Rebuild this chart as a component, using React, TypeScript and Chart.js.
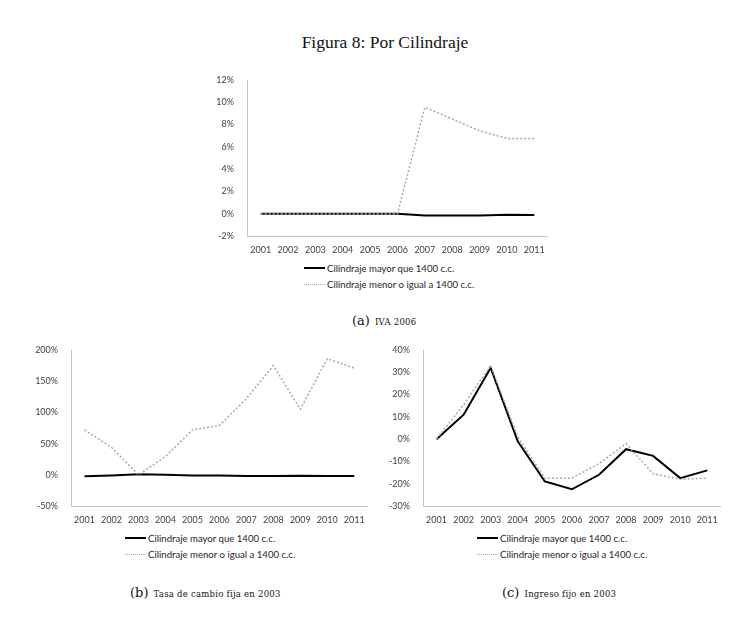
import React, { useEffect, useRef } from "react";
import { Chart, registerables } from "chart.js";

Chart.register(...registerables);

const years = ["2001", "2002", "2003", "2004", "2005", "2006", "2007", "2008", "2009", "2010", "2011"];

// (a) IVA 2006
const ivaMayor = [0, 0, 0, 0, 0, 0, -0.15, -0.15, -0.15, -0.1, -0.12];
const ivaMenor = [0, 0, 0, 0, 0, 0, 9.55, 8.5, 7.45, 6.75, 6.75];

// (b) Tasa de cambio fija en 2003
const tasaMayor = [-2.5, -1, 1, 0, -1, -1, -2, -2, -1.5, -2, -2];
const tasaMenor = [72, 44, 0, 29, 72, 79, 122, 175, 105, 186, 171];

// (c) Ingreso fijo en 2003
const ingresoMayor = [0, 11, 32, -1, -19, -22.5, -16, -4.5, -7.5, -17.5, -14];
const ingresoMenor = [0, 15.5, 33, 1, -17.5, -17.5, -11, -2, -15.5, -18, -17.5];

const labelMayor = "Cilindraje mayor que 1400 c.c.";
const labelMenor = "Cilindraje menor o igual a 1400 c.c.";

const PAD_L = 48;
const PAD_T = 12;
const PAD_R = 6;
const PAD_B = 24;

const tickFont = { family: "Lato", size: 9 };
const textColor = "#404040";
const axisColor = "#c4c4c4";

type Plot = { left: number; top: number; width: number; height: number };

type ChartProps = {
  plot: Plot;
  mayor: number[];
  menor: number[];
  yMin: number;
  yMax: number;
  yStep: number;
};

function LineChart({ plot, mayor, menor, yMin, yMax, yStep }: ChartProps) {
  const ref = useRef<HTMLCanvasElement | null>(null);

  useEffect(() => {
    const ctx = ref.current?.getContext("2d");
    if (!ctx) return;
    const chart = new Chart(ctx, {
      type: "line",
      data: {
        labels: years,
        datasets: [
          {
            label: labelMenor,
            data: menor,
            borderColor: "#a8a8a8",
            borderWidth: 1.5,
            borderDash: [2, 2],
            pointRadius: 0,
            tension: 0,
          },
          {
            label: labelMayor,
            data: mayor,
            borderColor: "#000000",
            borderWidth: 2,
            pointRadius: 0,
            tension: 0,
          },
        ],
      },
      options: {
        animation: false,
        responsive: true,
        maintainAspectRatio: false,
        layout: { padding: { top: PAD_T, right: PAD_R, left: 0, bottom: 0 } },
        plugins: { legend: { display: false }, tooltip: { enabled: false } },
        scales: {
          x: {
            offset: true,
            grid: { display: false, drawTicks: false },
            border: { display: true, color: axisColor, width: 1 },
            ticks: { padding: 9, font: tickFont, color: textColor, maxRotation: 0, autoSkip: false },
            afterFit: (s: any) => {
              s.height = PAD_B;
            },
          },
          y: {
            min: yMin,
            max: yMax,
            // grid hidden, but the tick length still spaces the labels from the axis
            grid: { display: false, drawTicks: true, tickLength: 8 },
            border: { display: true, color: axisColor, width: 1 },
            ticks: {
              stepSize: yStep,
              padding: 5,
              font: tickFont,
              color: textColor,
              callback: (v: any) => `${v}%`,
            },
            afterFit: (s: any) => {
              s.width = PAD_L;
            },
          },
        },
      },
    });
    return () => chart.destroy();
  }, [plot, mayor, menor, yMin, yMax, yStep]);

  return (
    <div
      style={{
        position: "absolute",
        left: plot.left - PAD_L,
        top: plot.top - PAD_T,
        width: plot.width + PAD_L + PAD_R,
        height: plot.height + PAD_T + PAD_B,
      }}
    >
      <canvas ref={ref} />
    </div>
  );
}

function Legend({ left, top }: { left: number; top: number }) {
  const row: React.CSSProperties = { display: "flex", alignItems: "center", height: 16.5, whiteSpace: "nowrap" };
  return (
    <div
      style={{
        position: "absolute",
        left,
        top,
        fontFamily: "Lato",
        fontSize: 9.6,
        color: "#262626",
      }}
    >
      <div style={row}>
        <span style={{ display: "inline-block", width: 21, borderTop: "2px solid #000", marginRight: 2 }} />
        <span>{labelMayor}</span>
      </div>
      <div style={row}>
        <span style={{ display: "inline-block", width: 21, borderTop: "1.5px dotted #a8a8a8", marginRight: 2 }} />
        <span>{labelMenor}</span>
      </div>
    </div>
  );
}

function Caption({ left, top, tag, text }: { left: number; top: number; tag: string; text: string }) {
  return (
    <div
      style={{
        position: "absolute",
        left,
        top,
        whiteSpace: "nowrap",
        fontFamily: "'DejaVu Serif', serif",
        color: "#111",
        lineHeight: "20px",
      }}
    >
      <span style={{ fontSize: 13 }}>{tag}</span>{" "}
      <span style={{ fontSize: 8.5, letterSpacing: 0.25 }}>{text}</span>
    </div>
  );
}

const plotA = { left: 247, top: 79.5, width: 301, height: 156 };
const plotB = { left: 71, top: 349.5, width: 297, height: 156 };
const plotC = { left: 423, top: 349.5, width: 298, height: 156 };

export default function App() {
  return (
    <div style={{ position: "absolute", left: 0, top: 0, width: 751, height: 617, background: "#fff" }}>
      <div
        style={{
          position: "absolute",
          left: 0,
          width: 770,
          top: 32,
          textAlign: "center",
          fontFamily: "'Liberation Serif', serif",
          fontSize: 17.5,
          color: "#111",
        }}
      >
        Figura 8: Por Cilindraje
      </div>

      <LineChart plot={plotA} mayor={ivaMayor} menor={ivaMenor} yMin={-2} yMax={12} yStep={2} />
      <Legend left={304} top={260} />
      <Caption left={352} top={310} tag="(a)" text="IVA 2006" />

      <LineChart plot={plotB} mayor={tasaMayor} menor={tasaMenor} yMin={-50} yMax={200} yStep={50} />
      <Legend left={125} top={530} />
      <Caption left={130} top={582} tag="(b)" text="Tasa de cambio fija en 2003" />

      <LineChart plot={plotC} mayor={ingresoMayor} menor={ingresoMenor} yMin={-30} yMax={40} yStep={10} />
      <Legend left={477} top={530} />
      <Caption left={502} top={582} tag="(c)" text="Ingreso fijo en 2003" />
    </div>
  );
}
